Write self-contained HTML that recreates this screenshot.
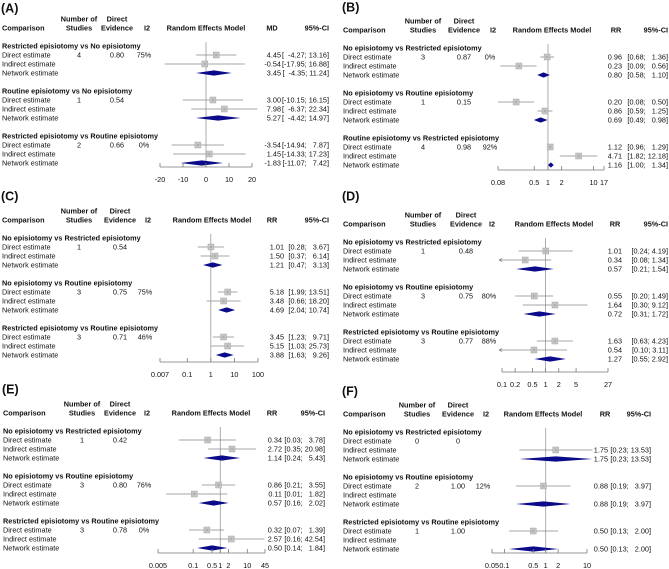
<!DOCTYPE html>
<html><head><meta charset="utf-8">
<style>
html,body{margin:0;padding:0;background:#fff;}
svg{display:block;font-family:"Liberation Sans",Arial,sans-serif;}
text{font-size:7.3px;fill:#111;}
.b{font-weight:bold;}
.lbl{font-size:12.5px;font-weight:bold;}
</style></head>
<body>
<svg id="fig" width="669" height="569" viewBox="0 0 669 569" xmlns="http://www.w3.org/2000/svg"></svg>
<script>
// ---------- data ----------
const groupTitlesA = ["Restricted episiotomy vs No episiotomy","Routine episiotomy vs No episiotomy","Restricted episiotomy vs Routine episiotomy"];
const groupTitlesB = ["No episiotomy vs Restricted episiotomy","No episiotomy vs Routine episiotomy","Routine episiotomy vs Restricted episiotomy"];
const groupTitlesCDEF = ["No episiotomy vs Restricted episiotomy","No episiotomy vs Routine episiotomy","Restricted episiotomy vs Routine episiotomy"];
const rowLabels = ["Direct estimate","Indirect estimate","Network estimate"];

const A_studies=["4","1","2"], A_evidence=["0.80","0.54","0.66"], A_i2=["75%","","0%"];
const A_est=[[4.45,-0.54,3.45],[3.00,7.98,5.27],[-3.54,1.45,-1.83]];
const A_lo=[[-4.27,-17.95,-4.35],[-10.15,-6.37,-4.42],[-14.94,-14.33,-11.07]];
const A_hi=[[13.16,16.88,11.24],[16.15,22.34,14.97],[7.87,17.23,7.42]];
const A_ticks=[-20,-10,0,10,20];

const B_studies=["3","1","4"], B_evidence=["0.87","0.15","0.98"], B_i2=["0%","","92%"];
const B_est=[[0.96,0.23,0.80],[0.20,0.86,0.69],[1.12,4.71,1.16]];
const B_lo=[[0.68,0.09,0.58],[0.08,0.59,0.49],[0.96,1.82,1.00]];
const B_hi=[[1.36,0.56,1.10],[0.50,1.25,0.98],[1.29,12.18,1.34]];
const B_ticks=[0.08,0.5,1,2,10,17];

const C_studies=["1","3","3"], C_evidence=["0.54","0.75","0.71"], C_i2=["","75%","46%"];
const C_est=[[1.01,1.50,1.21],[5.18,3.48,4.69],[3.45,5.15,3.88]];
const C_lo=[[0.28,0.37,0.47],[1.99,0.66,2.04],[1.23,1.03,1.63]];
const C_hi=[[3.67,6.14,3.13],[13.51,18.20,10.74],[9.71,25.73,9.26]];
const C_ticks=[0.007,0.1,1,10,100];

const D_studies=["1","3","3"], D_evidence=["0.48","0.75","0.77"], D_i2=["","80%","88%"];
const D_est=[[1.01,0.34,0.57],[0.55,1.64,0.72],[1.63,0.54,1.27]];
const D_lo=[[0.24,0.08,0.21],[0.20,0.30,0.31],[0.63,0.10,0.55]];
const D_hi=[[4.19,1.34,1.54],[1.49,9.12,1.72],[4.23,3.11,2.92]];
const D_ticks=[0.1,0.2,0.5,1,2,5,27];

const E_studies=["1","3","3"], E_evidence=["0.42","0.80","0.78"], E_i2=["","76%","0%"];
const E_est=[[0.34,2.72,1.14],[0.86,0.11,0.57],[0.32,2.57,0.50]];
const E_lo=[[0.03,0.35,0.24],[0.21,0.01,0.16],[0.07,0.16,0.14]];
const E_hi=[[3.78,20.98,5.43],[3.55,1.82,2.02],[1.39,42.54,1.84]];
const E_ticks=[0.005,0.1,0.5,1,2,10,45];

const F_studies=["0","2","1"], F_evidence=["0","1.00","1.00"], F_i2=["","12%",""];
const F_est=[[null,1.75,1.75],[0.88,null,0.88],[0.50,null,0.50]];
const F_lo=[[null,0.23,0.23],[0.19,null,0.19],[0.13,null,0.13]];
const F_hi=[[null,13.53,13.53],[3.97,null,3.97],[2.00,null,2.00]];
const F_ticks=[0.05,0.1,0.5,1,2,10];

// ---------- rendering ----------
const NS="http://www.w3.org/2000/svg";
const svg=document.getElementById('fig');
function mk(tag,attrs,parent,txt){const e=document.createElementNS(NS,tag);for(const k in attrs)e.setAttribute(k,attrs[k]);if(txt!==undefined)e.textContent=txt;parent.appendChild(e);return e;}
function pad(s,w){let p="";for(let i=s.length;i<w;i++)p+="\u00a0\u00a0";return p+s;}

function drawPanel(p){
  const g=mk('g',{transform:`translate(${p.ox},${p.oy})`},svg);
  
  
  const c=p.cols;
  const lab=mk('text',{x:c.comp-1,y:p.labY+4.5,class:'lbl'},g,'('+p.id+')');
  
  
  const h1=p.base-27+2.6, h2=p.base-18+2.6;
  const hd=mk('g',{},g);
  
  
  mk('text',{x:c.comp,y:h2,class:'b'},hd,'Comparison');
  mk('text',{x:c.stud,y:h1,class:'b','text-anchor':'middle'},hd,'Number of');
  mk('text',{x:c.stud,y:h2,class:'b','text-anchor':'middle'},hd,'Studies');
  mk('text',{x:c.ev,y:h1,class:'b','text-anchor':'middle'},hd,'Direct');
  mk('text',{x:c.ev,y:h2,class:'b','text-anchor':'middle'},hd,'Evidence');
  mk('text',{x:c.i2,y:h2,class:'b','text-anchor':'middle'},hd,'I2');
  mk('text',{x:c.rem,y:h2,class:'b','text-anchor':'middle'},hd,'Random Effects Model');
  mk('text',{x:c.eff,y:h2,class:'b','text-anchor':'middle'},hd,p.effLabel);
  mk('text',{x:c.ciR,y:h2,class:'b','text-anchor':'end'},hd,'95%-CI');
  const f=p.log?Math.log:(v=>v);
  const tmin=p.ticks[0], tmax=p.ticks[p.ticks.length-1];
  const X=v=>p.x0+(f(v)-f(tmin))/(f(tmax)-f(tmin))*(p.x1-p.x0);
  const ref=mk('line',{x1:X(p.refVal),x2:X(p.refVal),y1:p.base-4,y2:p.axisY,stroke:'#999','stroke-width':0.8},g);
  
  
  for(let gi=0;gi<3;gi++){
    const gy=p.base+gi*45;
    const grp=mk('g',{},g);
    
    
    mk('text',{x:c.comp,y:gy+2.6,class:'b'},grp,p.titles[gi]);
    for(let r=0;r<3;r++){
      const y=gy+(r+1)*9;
      mk('text',{x:c.comp,y:y+2.6},grp,rowLabels[r]);
      if(r===0){
        mk('text',{x:c.stud,y:y+2.6,'text-anchor':'middle'},grp,p.studies[gi]);
        mk('text',{x:c.ev,y:y+2.6,'text-anchor':'middle'},grp,p.evidence[gi]);
        mk('text',{x:c.i2-3,y:y+2.6,'text-anchor':'middle'},grp,p.i2[gi]);
      }
      const est=p.est[gi][r];
      if(est===null) continue;
      let lo=p.lo[gi][r], hi=p.hi[gi][r];
      mk('text',{x:c.valR,y:y+2.6,'text-anchor':'end'},grp,est.toFixed(2));
      const ci='['+pad(lo.toFixed(2),p.loW)+';\u00a0'+pad(hi.toFixed(2),p.hiW)+']';
      mk('text',{x:c.ciR,y:y+2.6,'text-anchor':'end'},grp,ci);
      let clipLo=false;
      if(p.clip && lo<=tmin){lo=tmin;clipLo=true;}
      const xl=X(lo)-(clipLo?3:0), xh=X(hi), xe=X(est);
      if(r<2){
        const ln=mk('line',{x1:xl,x2:xh,y1:y,y2:y,stroke:'#888','stroke-width':0.8},grp);
        
        
        if(clipLo){mk('path',{d:`M${xl} ${y} l3 -1.5 M${xl} ${y} l3 1.5`,stroke:'#888','stroke-width':0.8,fill:'none'},grp);}
        const sq=mk('rect',{x:xe-3,y:y-3,width:6,height:6,fill:'#c4c4c4',stroke:'#aaa','stroke-width':0.5},grp);
        
        
        mk('line',{x1:xe-1,x2:xe+1,y1:y,y2:y,stroke:'#777','stroke-width':0.6},grp);
      } else {
        const dm=mk('path',{d:`M${xl} ${y} L${xe} ${y-2.6} L${xh} ${y} L${xe} ${y+2.6} Z`,fill:'#0a0a8a'},grp);
        
        
      }
    }
  }
  const ax=mk('g',{},g);
  
  
  mk('line',{x1:X(tmin),x2:X(tmax),y1:p.axisY,y2:p.axisY,stroke:'#777','stroke-width':0.8},ax);
  p.ticks.forEach(t=>{
    const x=X(t);
    mk('line',{x1:x,x2:x,y1:p.axisY,y2:p.axisY-4,stroke:'#777','stroke-width':0.8},ax);
    mk('text',{x:x,y:p.axisY+15,'text-anchor':'middle'},ax,String(t));
  });
}

const panels=[
 {id:'A',ox:0,oy:0,labY:8,base:46,axisY:167,log:false,refVal:0,x0:160,x1:252,ticks:A_ticks,effLabel:'MD',loW:6,hiW:5,
  cols:{comp:2,stud:79,ev:117,i2:147,rem:206,eff:272,valR:281,ciR:329},
  titles:groupTitlesA,studies:A_studies,evidence:A_evidence,i2:A_i2,est:A_est,lo:A_lo,hi:A_hi},
 {id:'B',ox:335,oy:0,labY:7,base:48,axisY:170,log:true,refVal:1,x0:163,x1:269,ticks:B_ticks,effLabel:'RR',loW:4,hiW:5,
  cols:{comp:8,stud:88,ev:129,i2:158,rem:217,eff:281,valR:287,ciR:333},
  titles:groupTitlesB,studies:B_studies,evidence:B_evidence,i2:B_i2,est:B_est,lo:B_lo,hi:B_hi},
 {id:'C',ox:0,oy:190,labY:6,base:48,axisY:172,log:true,refVal:1,x0:160,x1:258,ticks:C_ticks,effLabel:'RR',loW:4,hiW:5,
  cols:{comp:2,stud:79,ev:120,i2:148,rem:212,eff:272,valR:284,ciR:329},
  titles:groupTitlesCDEF,studies:C_studies,evidence:C_evidence,i2:C_i2,est:C_est,lo:C_lo,hi:C_hi},
 {id:'D',ox:335,oy:190,labY:6,base:52,axisY:182,log:true,refVal:1,x0:167,x1:273,ticks:D_ticks,effLabel:'RR',loW:4,hiW:4,clip:true,
  cols:{comp:8,stud:88,ev:131,i2:157,rem:219,eff:280,valR:287,ciR:333},
  titles:groupTitlesCDEF,studies:D_studies,evidence:D_evidence,i2:D_i2,est:D_est,lo:D_lo,hi:D_hi},
 {id:'E',ox:0,oy:380,labY:9,base:51,axisY:173,log:true,refVal:1,x0:158,x1:265,ticks:E_ticks,effLabel:'RR',loW:4,hiW:5,
  cols:{comp:3,stud:82,ev:120,i2:147,rem:211,eff:272,valR:282,ciR:325},
  titles:groupTitlesCDEF,studies:E_studies,evidence:E_evidence,i2:E_i2,est:E_est,lo:E_lo,hi:E_hi},
 {id:'F',ox:335,oy:380,labY:11,base:52,axisY:173,log:true,refVal:1,x0:157,x1:252,ticks:F_ticks,effLabel:'RR',loW:4,hiW:5,
  cols:{comp:8,stud:82,ev:123,i2:151,rem:208,eff:270,valR:273,ciR:316},
  titles:groupTitlesCDEF,studies:F_studies,evidence:F_evidence,i2:F_i2,est:F_est,lo:F_lo,hi:F_hi}
];
panels.forEach(drawPanel);
</script>
</body></html>
